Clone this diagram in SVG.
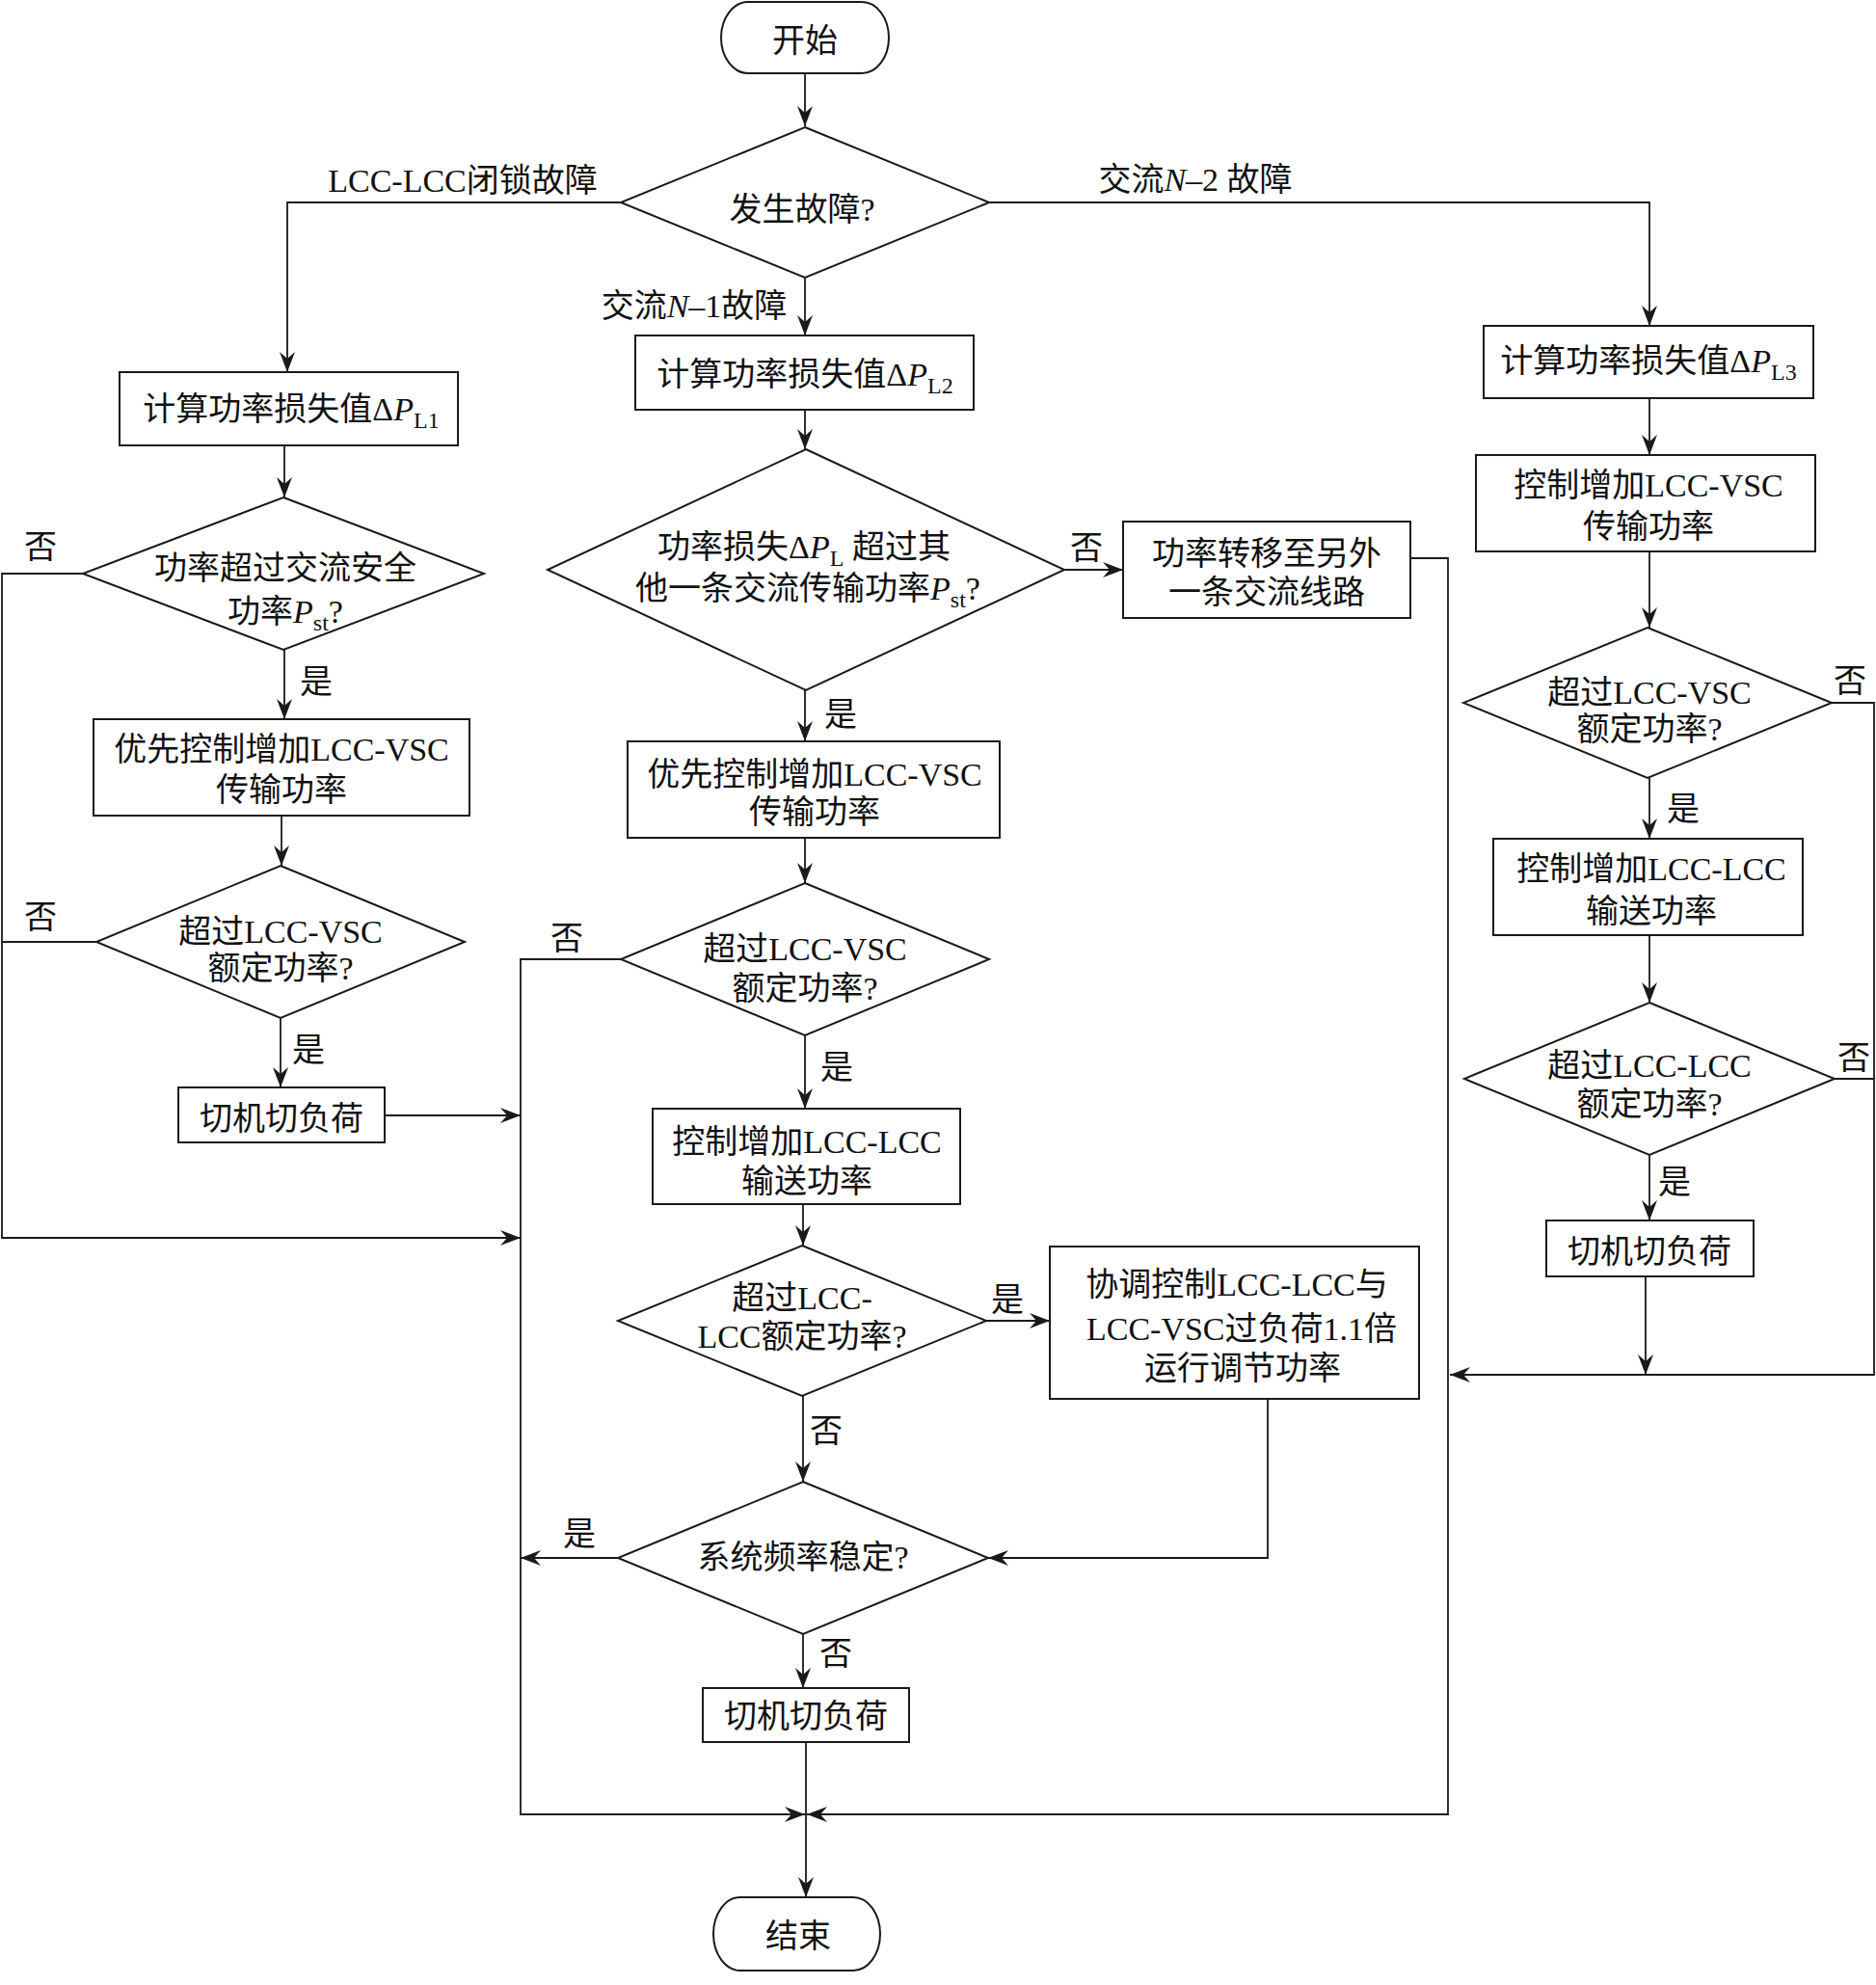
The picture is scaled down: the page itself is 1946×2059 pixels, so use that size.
<svg xmlns="http://www.w3.org/2000/svg" width="1946" height="2059" viewBox="0 0 1946 2059">
<style>
.n{fill:#fff;stroke:#1a1a1a;stroke-width:2}
.c{fill:none;stroke:#1a1a1a;stroke-width:1.8}
text{font-family:'Liberation Serif','Noto Sans CJK SC',serif;font-size:34px;fill:#111;text-anchor:middle}
.i{font-style:italic}
.s{font-size:24px}
</style>
<defs>
<marker id="arr" markerUnits="userSpaceOnUse" markerWidth="24" markerHeight="20" viewBox="-22 -10 24 20" refX="0" refY="0" orient="auto">
<path d="M0,0 L-21,-8 L-14,0 L-21,8 Z" fill="#1a1a1a"/>
</marker>
</defs>
<rect x="0" y="0" width="1946" height="2059" fill="#fff"/>

<g id="connectors">
<path class="c" d="M835,76 V131" marker-end="url(#arr)"/>
<path class="c" d="M644,210 H298 V386" marker-end="url(#arr)"/>
<path class="c" d="M835,288 V348" marker-end="url(#arr)"/>
<path class="c" d="M1026,210 H1711 V338" marker-end="url(#arr)"/>
<path class="c" d="M295,462 V516" marker-end="url(#arr)"/>
<path class="c" d="M295,674 V746" marker-end="url(#arr)"/>
<path class="c" d="M292,846 V898" marker-end="url(#arr)"/>
<path class="c" d="M291,1056 V1128" marker-end="url(#arr)"/>
<path class="c" d="M399,1157 H540" marker-end="url(#arr)"/>
<path class="c" d="M86,595 H2 V1284 H540" marker-end="url(#arr)"/>
<path class="c" d="M100,977 H2"/>
<path class="c" d="M835,425 V466" marker-end="url(#arr)"/>
<path class="c" d="M1104,591 H1165" marker-end="url(#arr)"/>
<path class="c" d="M835,716 V769" marker-end="url(#arr)"/>
<path class="c" d="M835,869 V916" marker-end="url(#arr)"/>
<path class="c" d="M644,995 H540 V1882 H835" marker-end="url(#arr)"/>
<path class="c" d="M835,1074 V1150" marker-end="url(#arr)"/>
<path class="c" d="M833,1249 V1292" marker-end="url(#arr)"/>
<path class="c" d="M1023,1370 H1089" marker-end="url(#arr)"/>
<path class="c" d="M833,1448 V1537" marker-end="url(#arr)"/>
<path class="c" d="M1315,1451 V1616 H1025" marker-end="url(#arr)"/>
<path class="c" d="M641,1616 H540" marker-end="url(#arr)"/>
<path class="c" d="M833,1695 V1751" marker-end="url(#arr)"/>
<path class="c" d="M836,1807 V1968" marker-end="url(#arr)"/>
<path class="c" d="M1463,579 H1502 V1882 H837" marker-end="url(#arr)"/>
<path class="c" d="M1711,413 V472" marker-end="url(#arr)"/>
<path class="c" d="M1711,572 V651" marker-end="url(#arr)"/>
<path class="c" d="M1711,807 V870" marker-end="url(#arr)"/>
<path class="c" d="M1711,970 V1040" marker-end="url(#arr)"/>
<path class="c" d="M1711,1198 V1266" marker-end="url(#arr)"/>
<path class="c" d="M1707,1324 V1426" marker-end="url(#arr)"/>
<path class="c" d="M1900,729 H1944 V1426 H1504" marker-end="url(#arr)"/>
<path class="c" d="M1903,1119 H1944"/>
</g>

<g id="edge-labels">
<text x="480" y="199">LCC-LCC闭锁故障</text>
<text x="720" y="329">交流<tspan class="i">N</tspan>–1故障</text>
<text x="1240" y="198">交流<tspan class="i">N</tspan>–2 故障</text>
<text x="42" y="579">否</text>
<text x="328" y="719">是</text>
<text x="42" y="963">否</text>
<text x="320" y="1101">是</text>
<text x="1127" y="580">否</text>
<text x="872" y="753">是</text>
<text x="588" y="985">否</text>
<text x="868" y="1119">是</text>
<text x="1045" y="1360">是</text>
<text x="857" y="1496">否</text>
<text x="601" y="1603">是</text>
<text x="867" y="1727">否</text>
<text x="1919" y="718">否</text>
<text x="1746" y="851">是</text>
<text x="1923" y="1109">否</text>
<text x="1737" y="1238">是</text>
</g>

<g id="start">
<rect class="n" x="748" y="2" width="174" height="74" rx="28" ry="37"/>
<text x="835" y="54">开始</text>
</g>

<g id="fault">
<polygon class="n" points="835,132 1026,210 835,288 644,210"/>
<text x="832" y="229">发生故障?</text>
</g>

<g id="calcL1">
<rect class="n" x="124" y="386" width="351" height="76"/>
<text x="302" y="436">计算功率损失值Δ<tspan class="i">P</tspan><tspan class="s" dy="8">L1</tspan></text>
</g>

<g id="calcL2">
<rect class="n" x="659" y="348" width="351" height="77"/>
<text x="835" y="400">计算功率损失值Δ<tspan class="i">P</tspan><tspan class="s" dy="8">L2</tspan></text>
</g>

<g id="calcL3">
<rect class="n" x="1539" y="338" width="342" height="75"/>
<text x="1710" y="386">计算功率损失值Δ<tspan class="i">P</tspan><tspan class="s" dy="8">L3</tspan></text>
</g>

<g id="leftCheckPst">
<polygon class="n" points="294,516 502,595 294,674 86,595"/>
<text x="296" y="601">功率超过交流安全</text>
<text x="296" y="646">功率<tspan class="i">P</tspan><tspan class="s" dy="8">st</tspan><tspan dy="-8">?</tspan></text>
</g>

<g id="leftPriorityVSC">
<rect class="n" x="97" y="746" width="390" height="100"/>
<text x="292" y="789">优先控制增加LCC-VSC</text>
<text x="292" y="831">传输功率</text>
</g>

<g id="leftCheckVSC">
<polygon class="n" points="291,898 482,977 291,1056 100,977"/>
<text x="291" y="978">超过LCC-VSC</text>
<text x="291" y="1016">额定功率?</text>
</g>

<g id="leftShed">
<rect class="n" x="185" y="1128" width="214" height="57"/>
<text x="292" y="1172">切机切负荷</text>
</g>

<g id="midCheckPst">
<polygon class="n" points="836,466 1104,591 836,716 568,591"/>
<text x="834" y="579">功率损失Δ<tspan class="i">P</tspan><tspan class="s" dy="8">L</tspan><tspan dy="-8"> 超过其</tspan></text>
<text x="838" y="622">他一条交流传输功率<tspan class="i">P</tspan><tspan class="s" dy="8">st</tspan><tspan dy="-8">?</tspan></text>
</g>

<g id="transfer">
<rect class="n" x="1165" y="541" width="298" height="100"/>
<text x="1314" y="586">功率转移至另外</text>
<text x="1314" y="626">一条交流线路</text>
</g>

<g id="midPriorityVSC">
<rect class="n" x="651" y="769" width="386" height="100"/>
<text x="845" y="815">优先控制增加LCC-VSC</text>
<text x="845" y="854">传输功率</text>
</g>

<g id="midCheckVSC">
<polygon class="n" points="835,916 1026,995 835,1074 644,995"/>
<text x="835" y="996">超过LCC-VSC</text>
<text x="835" y="1037">额定功率?</text>
</g>

<g id="midIncLCC">
<rect class="n" x="677" y="1150" width="319" height="99"/>
<text x="837" y="1196">控制增加LCC-LCC</text>
<text x="837" y="1237">输送功率</text>
</g>

<g id="midCheckLCC">
<polygon class="n" points="832,1292 1023,1370 832,1448 641,1370"/>
<text x="832" y="1358">超过LCC-</text>
<text x="832" y="1398">LCC额定功率?</text>
</g>

<g id="coordinate">
<rect class="n" x="1089" y="1293" width="383" height="158"/>
<text x="1283" y="1344">协调控制LCC-LCC与</text>
<text x="1288" y="1390">LCC-VSC过负荷1.1倍</text>
<text x="1289" y="1431">运行调节功率</text>
</g>

<g id="freqStable">
<polygon class="n" points="833,1537 1025,1616 833,1695 641,1616"/>
<text x="833" y="1627">系统频率稳定?</text>
</g>

<g id="midShed">
<rect class="n" x="729" y="1751" width="214" height="56"/>
<text x="836" y="1792">切机切负荷</text>
</g>

<g id="end">
<rect class="n" x="740" y="1968" width="173" height="76" rx="28" ry="38"/>
<text x="828" y="2020">结束</text>
</g>

<g id="rightIncVSC">
<rect class="n" x="1531" y="472" width="352" height="100"/>
<text x="1710" y="515">控制增加LCC-VSC</text>
<text x="1710" y="558">传输功率</text>
</g>

<g id="rightCheckVSC">
<polygon class="n" points="1709,651 1900,729 1709,807 1518,729"/>
<text x="1711" y="730">超过LCC-VSC</text>
<text x="1711" y="768">额定功率?</text>
</g>

<g id="rightIncLCC">
<rect class="n" x="1549" y="870" width="321" height="100"/>
<text x="1713" y="913">控制增加LCC-LCC</text>
<text x="1713" y="957">输送功率</text>
</g>

<g id="rightCheckLCC">
<polygon class="n" points="1711,1040 1903,1119 1711,1198 1519,1119"/>
<text x="1711" y="1117">超过LCC-LCC</text>
<text x="1711" y="1157">额定功率?</text>
</g>

<g id="rightShed">
<rect class="n" x="1604" y="1266" width="215" height="58"/>
<text x="1711" y="1310">切机切负荷</text>
</g>
</svg>
